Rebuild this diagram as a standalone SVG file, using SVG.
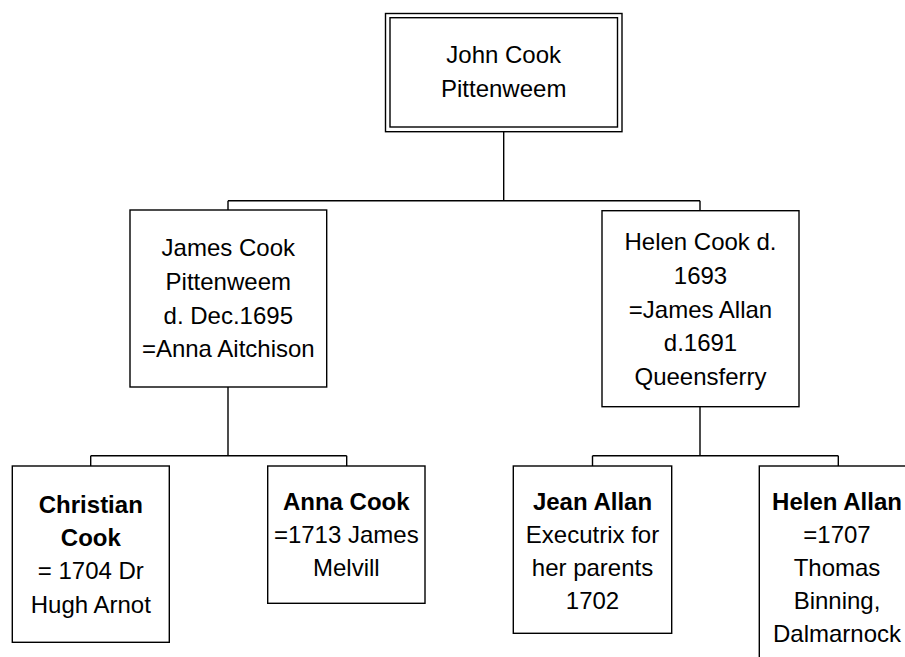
<svg xmlns="http://www.w3.org/2000/svg" width="905" height="657" viewBox="0 0 905 657">
<style>
.box{fill:#fff;stroke:#000;stroke-width:1.4}
.ln{fill:none;stroke:#000;stroke-width:1.4}
text{font-family:"Liberation Sans",Arial,sans-serif;font-size:24px;fill:#000;text-anchor:middle}
.b{font-weight:bold}
</style>
<rect width="905" height="657" fill="#fff"/>
<g id="connectors">
<path class="ln" d="M503.7 132 V200.7 M228 200.7 H700 M228 200.7 V210 M700 200.7 V210.7"/>
<path class="ln" d="M228 387 V455.7 M90.7 455.7 H346.7 M90.7 455.7 V466 M346.7 455.7 V466"/>
<path class="ln" d="M700 406.7 V455.7 M592.5 455.7 H838.3 M592.5 455.7 V466 M838.3 455.7 V466"/>
</g>
<g id="john">
<rect class="box" x="385.5" y="13.5" width="236.5" height="118.2"/>
<rect class="box" x="390" y="17.7" width="227.5" height="109.3"/>
<text x="503.7" y="63">John Cook</text>
<text x="503.7" y="97">Pittenweem</text>
</g>
<g id="james">
<rect class="box" x="130" y="210" width="196.7" height="177"/>
<text x="228.3" y="256">James Cook</text>
<text x="228.3" y="290">Pittenweem</text>
<text x="228.3" y="323.5">d. Dec.1695</text>
<text x="228.3" y="357">=Anna Aitchison</text>
</g>
<g id="helen">
<rect class="box" x="602" y="210.7" width="197" height="196"/>
<text x="700.5" y="250">Helen Cook d.</text>
<text x="700.5" y="284">1693</text>
<text x="700.5" y="317.5">=James Allan</text>
<text x="700.5" y="351">d.1691</text>
<text x="700.5" y="385">Queensferry</text>
</g>
<g id="christian">
<rect class="box" x="12.3" y="466" width="157" height="176.3"/>
<text class="b" x="90.8" y="512.7">Christian</text>
<text class="b" x="90.8" y="546">Cook</text>
<text x="90.8" y="579.3">= 1704 Dr</text>
<text x="90.8" y="612.7">Hugh Arnot</text>
</g>
<g id="anna">
<rect class="box" x="267.7" y="466" width="157.3" height="137.3"/>
<text class="b" x="346.3" y="510">Anna Cook</text>
<text x="346.3" y="543">=1713 James</text>
<text x="346.3" y="576">Melvill</text>
</g>
<g id="jean">
<rect class="box" x="513.3" y="466" width="158.4" height="167.3"/>
<text class="b" x="592.5" y="510">Jean Allan</text>
<text x="592.5" y="543">Executrix for</text>
<text x="592.5" y="576">her parents</text>
<text x="592.5" y="609">1702</text>
</g>
<g id="helenallan">
<rect class="box" x="759.3" y="466" width="160" height="200"/>
<text class="b" x="837" y="510">Helen Allan</text>
<text x="837" y="543">=1707</text>
<text x="837" y="576">Thomas</text>
<text x="837" y="609">Binning,</text>
<text x="837" y="642">Dalmarnock</text>
</g>
</svg>
